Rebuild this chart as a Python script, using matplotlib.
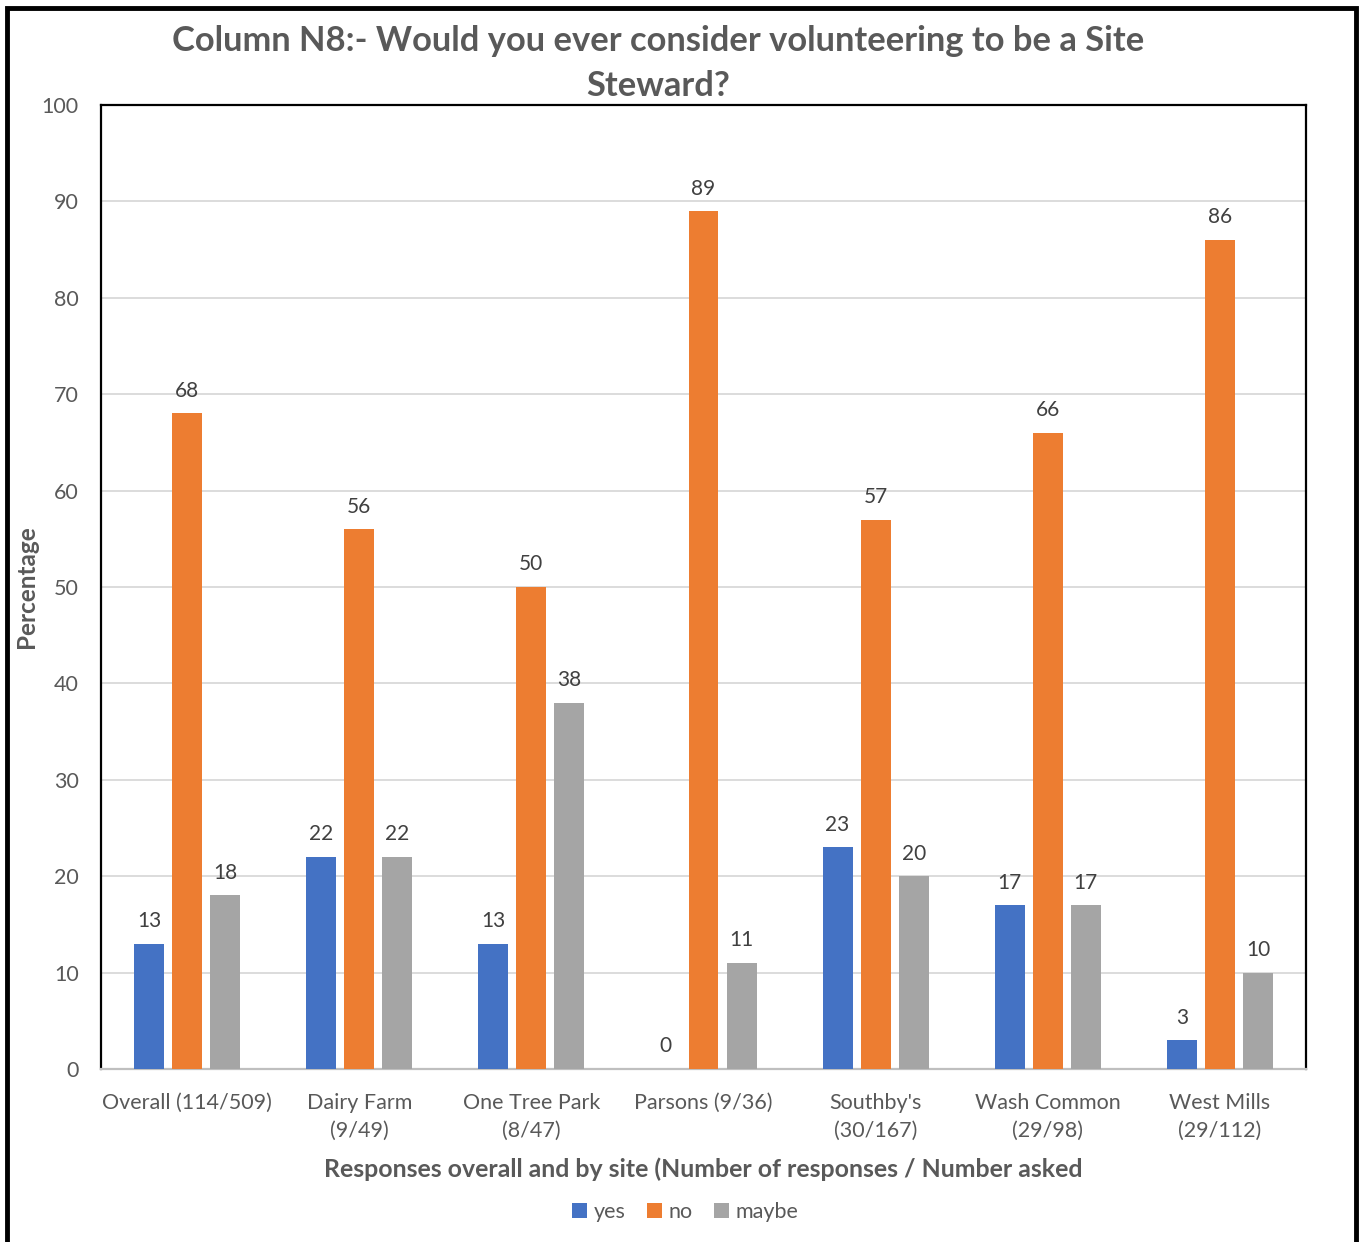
import numpy as np
import matplotlib
matplotlib.use("Agg")
import matplotlib.pyplot as plt
from matplotlib.patches import Rectangle

plt.rcParams["font.family"] = ["Lato", "DejaVu Sans"]

sites = ["Overall (114/509)", "Dairy Farm\n(9/49)", "One Tree Park\n(8/47)",
         "Parsons (9/36)", "Southby's\n(30/167)", "Wash Common\n(29/98)",
         "West Mills\n(29/112)"]
yes   = [13, 22, 13, 0, 23, 17, 3]
no    = [68, 56, 50, 89, 57, 66, 86]
maybe = [18, 22, 38, 11, 20, 17, 10]

series = [("yes", yes, "#4472C4"), ("no", no, "#ED7D31"), ("maybe", maybe, "#A5A5A5")]
TEXT = "#595959"

fig = plt.figure(figsize=(13.6, 12.42), dpi=100)
ax = fig.add_axes([101 / 1360, 1 - 1069 / 1242, 1205 / 1360, 964 / 1242])

x = np.arange(len(sites))
width = 0.174
step = 0.221
for i, (name, vals, color) in enumerate(series):
    bars = ax.bar(x + (i - 1) * step, vals, width, color=color, label=name, zorder=3)
    for b, v in zip(bars, vals):
        ax.annotate(str(v), (b.get_x() + b.get_width() / 2, v),
                    xytext=(0, 9), textcoords="offset points",
                    ha="center", va="bottom", fontsize=15, color="#404040")

ax.set_xlim(-0.5, len(sites) - 0.5)
ax.set_ylim(0, 100)
ax.set_yticks(range(0, 101, 10))
ax.yaxis.grid(True, color="#D9D9D9", lw=1.3, zorder=0)
ax.tick_params(axis="both", length=0, labelsize=15.5, labelcolor=TEXT)
ax.tick_params(axis="y", pad=16)
ax.tick_params(axis="x", pad=17)
ax.set_xticks(x)
ax.set_xticklabels(sites, linespacing=1.5)
for side in ["top", "left", "right"]:
    ax.spines[side].set_color("black")
    ax.spines[side].set_linewidth(1.6)
ax.spines["bottom"].set_color("#BFBFBF")
ax.spines["bottom"].set_linewidth(1.6)

ax.set_ylabel("Percentage", fontsize=17.5, fontweight="bold", color=TEXT)
ax.yaxis.set_label_coords(-63 / 1205, 0.5)
ax.set_xlabel("Responses overall and by site (Number of responses / Number asked",
              fontsize=17.9, fontweight="bold", color=TEXT, labelpad=12)

fig.text(0.484, 0.98, "Column N8:- Would you ever consider volunteering to be a Site\nSteward?",
         ha="center", va="top", fontsize=24.8, fontweight="bold", color=TEXT,
         linespacing=1.5)

ax.legend(loc="upper center", bbox_to_anchor=(0.485, -0.118), ncol=3, frameon=False,
          fontsize=15.5, handlelength=0.7, handleheight=0.7, handletextpad=0.3,
          columnspacing=1.0, labelcolor=TEXT)

# outer frame, open at the bottom edge
fig.patches.append(Rectangle((6.5 / 1360, -0.02), 1349 / 1360, 1.02 - 8 / 1242,
                             transform=fig.transFigure, fill=False,
                             edgecolor="black", lw=3.5))

fig.savefig("out.png", dpi=100)
